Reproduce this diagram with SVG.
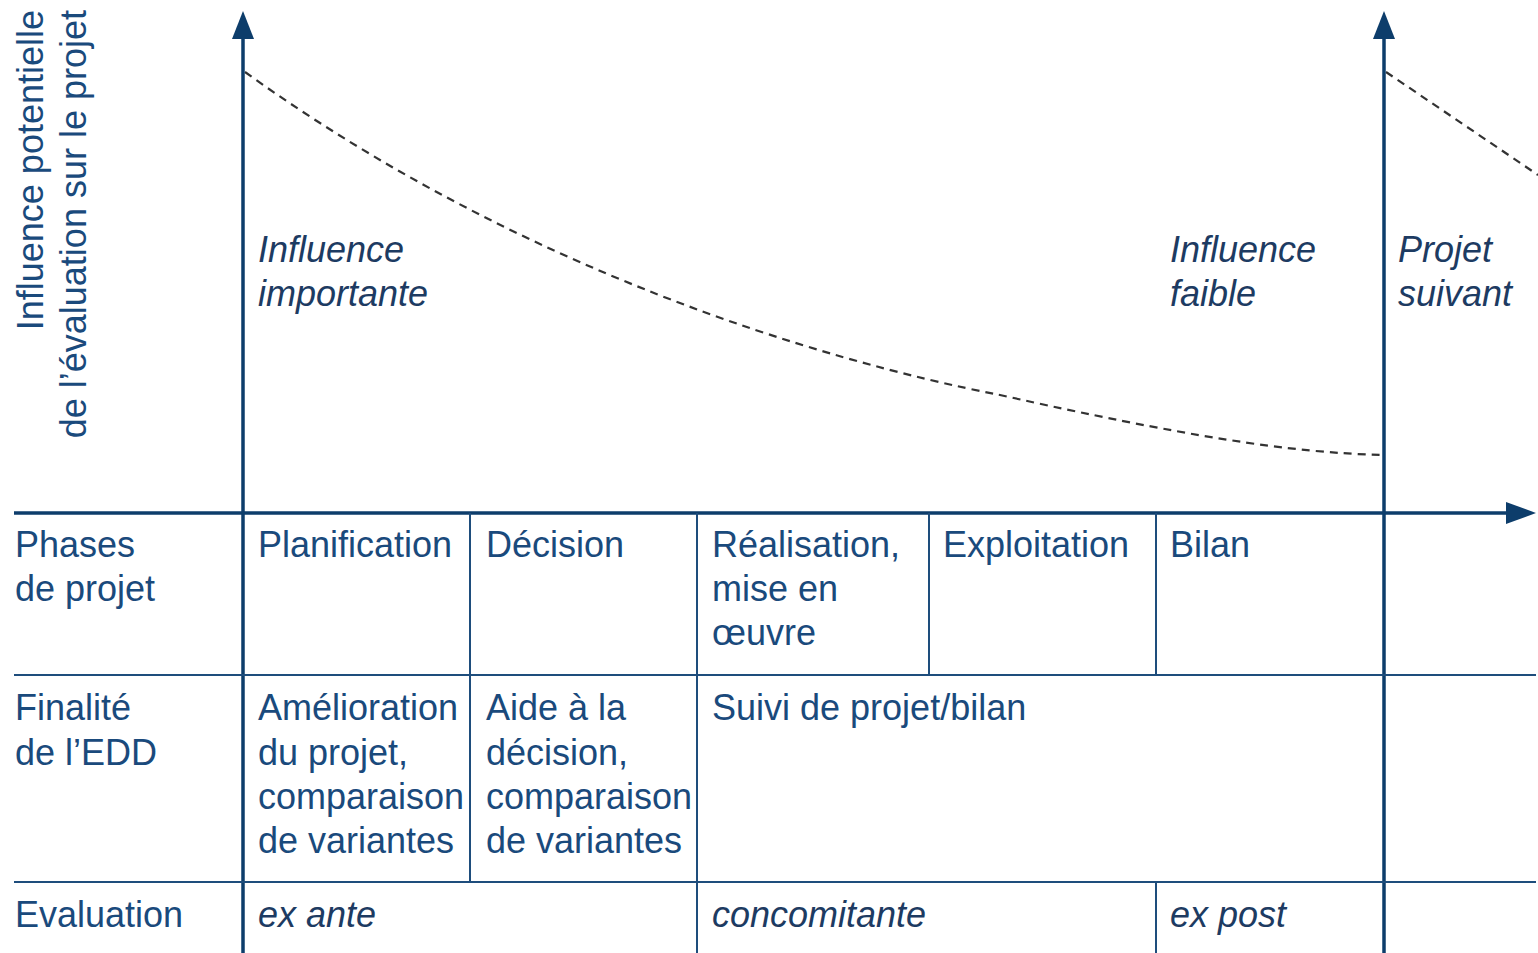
<svg xmlns="http://www.w3.org/2000/svg" width="1538" height="953" viewBox="0 0 1538 953">
<style>
.t{font-family:"Liberation Sans",Arial,sans-serif;font-size:36px;fill:#1a4a7c}
.i{font-style:italic;fill:#1d3b62}
.ax{stroke:#0d3d6b;stroke-width:3.5;fill:none}
.ln{stroke:#1e4d7c;stroke-width:2;fill:none}
.dash{stroke:#333;stroke-width:2.2;stroke-dasharray:8 6;fill:none}
.ah{fill:#0d3d6b}
</style>
<rect width="1538" height="953" fill="#fff"/>
<g id="connectors">
<path class="dash" d="M245,72 C520,270 820,360 1000,395 C1180,435 1290,453 1384,455"/>
<path class="dash" d="M1386,72 L1538,175"/>
<line class="ax" x1="243" y1="953" x2="243" y2="36"/>
<polygon class="ah" points="243,11 232,39 254,39"/>
<line class="ax" x1="1384" y1="953" x2="1384" y2="36"/>
<polygon class="ah" points="1384,11 1373,39 1395,39"/>
<line class="ax" x1="14" y1="513" x2="1510" y2="513"/>
<polygon class="ah" points="1536,513 1506,502 1506,524"/>
<line class="ln" x1="14" y1="675" x2="1536" y2="675"/>
<line class="ln" x1="14" y1="882" x2="1536" y2="882"/>
<line class="ln" x1="470" y1="513" x2="470" y2="882"/>
<line class="ln" x1="697" y1="513" x2="697" y2="953"/>
<line class="ln" x1="929" y1="513" x2="929" y2="675"/>
<line class="ln" x1="1156" y1="513" x2="1156" y2="675"/>
<line class="ln" x1="1156" y1="882" x2="1156" y2="953"/>
</g>
<g id="yaxis-label">
<text class="t" transform="translate(43,10) rotate(-90)" text-anchor="end">Influence potentielle</text>
<text class="t" transform="translate(86,10) rotate(-90)" text-anchor="end">de l’évaluation sur le projet</text>
</g>
<g id="influence-importante"><text class="t i" x="258" y="262">Influence</text><text class="t i" x="258" y="306">importante</text></g>
<g id="influence-faible"><text class="t i" x="1170" y="262">Influence</text><text class="t i" x="1170" y="306">faible</text></g>
<g id="projet-suivant"><text class="t i" x="1398" y="262">Projet</text><text class="t i" x="1398" y="306">suivant</text></g>
<g id="phases"><text class="t" x="15" y="557">Phases</text><text class="t" x="15" y="601">de projet</text></g>
<g id="planification"><text class="t" x="258" y="557">Planification</text></g>
<g id="decision"><text class="t" x="486" y="557">Décision</text></g>
<g id="realisation"><text class="t" x="712" y="557">Réalisation,</text><text class="t" x="712" y="601">mise en</text><text class="t" x="712" y="645">œuvre</text></g>
<g id="exploitation"><text class="t" x="943" y="557">Exploitation</text></g>
<g id="bilan"><text class="t" x="1170" y="557">Bilan</text></g>
<g id="finalite"><text class="t" x="15" y="720">Finalité</text><text class="t" x="15" y="765">de l’EDD</text></g>
<g id="amelioration"><text class="t" x="258" y="720">Amélioration</text><text class="t" x="258" y="765">du projet,</text><text class="t" x="258" y="809">comparaison</text><text class="t" x="258" y="853">de variantes</text></g>
<g id="aide"><text class="t" x="486" y="720">Aide à la</text><text class="t" x="486" y="765">décision,</text><text class="t" x="486" y="809">comparaison</text><text class="t" x="486" y="853">de variantes</text></g>
<g id="suivi"><text class="t" x="712" y="720">Suivi de projet/bilan</text></g>
<g id="evaluation"><text class="t" x="15" y="927">Evaluation</text></g>
<g id="ex-ante"><text class="t i" x="258" y="927">ex ante</text></g>
<g id="concomitante"><text class="t i" x="712" y="927">concomitante</text></g>
<g id="ex-post"><text class="t i" x="1170" y="927">ex post</text></g>
</svg>
